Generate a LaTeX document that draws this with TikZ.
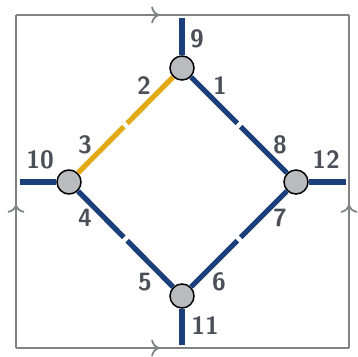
\documentclass[tikz,border=0pt]{standalone}
\usepackage{xcolor}
\usepackage{tikz}
\usetikzlibrary{arrows.meta,decorations.markings}

\definecolor{legblue}{HTML}{1A3F7A}
\definecolor{legyellow}{HTML}{E3AA18}
\definecolor{vgray}{HTML}{B9BBBE}
\definecolor{framegray}{HTML}{808285}
\definecolor{labgray}{HTML}{4B4F57}

\tikzset{
  vertex/.style={circle, draw=black, fill=vgray, line width=0.75pt, minimum size=12pt, inner sep=0pt},
  leg/.style={line width=2.6pt, draw=legblue},
  halflab/.style={text=labgray, font=\fontsize{12.5}{15}\selectfont\sffamily\bfseries, inner sep=0pt},
  framearrow/.style={postaction={decorate}, decoration={markings, mark=at position 0.43 with {\arrow[line width=0.9pt]{To[length=4pt,width=8.5pt]}}}}
}

\begin{document}
\begin{tikzpicture}[x=0.5pt, y=-0.5pt]
    \useasboundingbox (0,0) rectangle (357,357);

    % identified sides of the square
    \draw [framegray, line width=1pt, framearrow] (16,15) -- (349,15);
    \draw [framegray, line width=1pt, framearrow] (16,348) -- (349,348);
    \draw [framegray, line width=1pt, framearrow] (16,348) -- (16,15);
    \draw [framegray, line width=1pt, framearrow] (349,348) -- (349,15);

    \node [vertex] (vtop) at (182,68) {};
    \node [vertex] (vleft) at (69,182) {};
    \node [vertex] (vright) at (296,182) {};
    \node [vertex] (vbot) at (182,296) {};

    \coordinate (mtl) at (125.5,125);
    \coordinate (mtr) at (239,125);
    \coordinate (mbl) at (125.5,239);
    \coordinate (mbr) at (239,239);
    \coordinate (etop) at (182,18);
    \coordinate (eleft) at (20,182);
    \coordinate (eright) at (346,182);
    \coordinate (ebot) at (182,345);

    \draw [leg, draw=legyellow, shorten >=1.2pt] (vtop) -- (mtl);
    \draw [leg, draw=legyellow, shorten >=1.2pt] (vleft) -- (mtl);
    \draw [leg, shorten >=1.2pt] (vtop) -- (mtr);
    \draw [leg, shorten >=1.2pt] (vright) -- (mtr);
    \draw [leg, shorten >=1.2pt] (vleft) -- (mbl);
    \draw [leg, shorten >=1.2pt] (vbot) -- (mbl);
    \draw [leg, shorten >=1.2pt] (vbot) -- (mbr);
    \draw [leg, shorten >=1.2pt] (vright) -- (mbr);
    \draw [leg] (vtop) -- (etop);
    \draw [leg] (vleft) -- (eleft);
    \draw [leg] (vright) -- (eright);
    \draw [leg] (vbot) -- (ebot);

    \node [halflab] (l1) at (220,86) {1};
    \node [halflab] (l2) at (144,86) {2};
    \node [halflab] (l3) at (85,145) {3};
    \node [halflab] (l4) at (85,218) {4};
    \node [halflab] (l5) at (145,282) {5};
    \node [halflab] (l6) at (219,282) {6};
    \node [halflab] (l7) at (280,218) {7};
    \node [halflab] (l8) at (280,145) {8};
    \node [halflab] (l9) at (197,39) {9};
    \node [halflab] (l10) at (40,160) {10};
    \node [halflab] (l11) at (205,326) {11};
    \node [halflab] (l12) at (326,160) {12};
\end{tikzpicture}
\end{document}
